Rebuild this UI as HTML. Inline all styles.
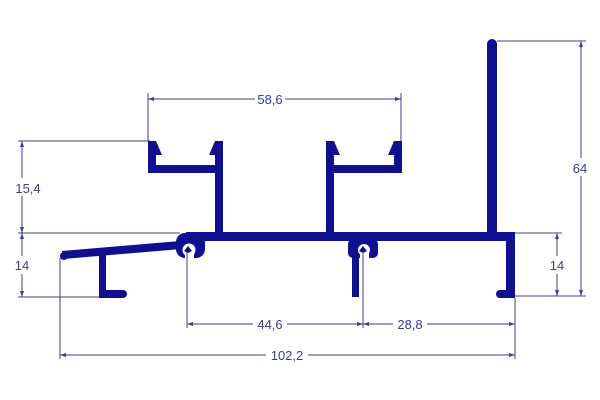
<!DOCTYPE html>
<html><head><style>html,body{margin:0;padding:0;background:#fff;}svg{display:block}</style></head>
<body>
<svg width="600" height="400" viewBox="0 0 600 400" xmlns="http://www.w3.org/2000/svg">
<g stroke="#3c3c90" stroke-width="1" fill="none">
  <line x1="148" y1="93" x2="148" y2="141"/><line x1="401" y1="93" x2="401" y2="141"/>
  <line x1="148" y1="99" x2="401" y2="99"/>
  <line x1="497" y1="41" x2="586" y2="41"/><line x1="515" y1="296" x2="586" y2="296"/>
  <line x1="581" y1="41" x2="581" y2="296"/>
  <line x1="18" y1="141" x2="150" y2="141"/>
  <line x1="18" y1="233" x2="180" y2="233"/>
  <line x1="18" y1="297" x2="100" y2="297"/>
  <line x1="22" y1="141" x2="22" y2="297"/>
  <line x1="515" y1="233" x2="562" y2="233"/>
  <line x1="557" y1="233" x2="557" y2="296"/>
  <line x1="60" y1="258" x2="60" y2="359"/>
  <line x1="515" y1="298" x2="515" y2="359"/>
  <line x1="187" y1="324" x2="515" y2="324"/>
  <line x1="60" y1="355" x2="515" y2="355"/>
</g>
<g fill="#3c3c90">
  <polygon points="148,99 154,97 154,101"/><polygon points="401,99 395,97 395,101"/>
  <polygon points="581,41 579,47 583,47"/><polygon points="581,296 579,290 583,290"/>
  <polygon points="22,141 20,147 24,147"/><polygon points="22,233 20,227 24,227"/>
  <polygon points="22,233 20,239 24,239"/><polygon points="22,297 20,291 24,291"/>
  <polygon points="557,233 555,239 559,239"/><polygon points="557,296 555,290 559,290"/>
  <polygon points="187,324 193,322 193,326"/><polygon points="363,324 357,322 357,326"/>
  <polygon points="363,324 369,322 369,326"/><polygon points="515,324 509,322 509,326"/>
  <polygon points="60,355 66,353 66,357"/><polygon points="515,355 509,353 509,357"/>
</g>
<g font-family="Liberation Sans, sans-serif" font-size="13" fill="#3c3c90" text-anchor="middle">
  <rect x="255" y="90" width="30" height="16" fill="#fff"/><text x="270" y="104">58,6</text>
  <rect x="568" y="158" width="24" height="18" fill="#fff"/><text x="580" y="173">64</text>
  <rect x="12" y="178" width="30" height="18" fill="#fff"/><text x="28" y="193">15,4</text>
  <rect x="12" y="256" width="20" height="18" fill="#fff"/><text x="22" y="270">14</text>
  <rect x="547" y="256" width="20" height="18" fill="#fff"/><text x="557" y="270">14</text>
  <rect x="253" y="316" width="34" height="16" fill="#fff"/><text x="270" y="329">44,6</text>
  <rect x="393" y="316" width="34" height="16" fill="#fff"/><text x="410" y="329">28,8</text>
  <rect x="266" y="347" width="42" height="16" fill="#fff"/><text x="287" y="360">102,2</text>
</g>
<g fill="#10108f" stroke="none">
  <rect x="186" y="232" width="329" height="9"/>
  <rect x="506" y="232" width="9" height="66"/>
  <rect x="496" y="290" width="19" height="8" rx="4"/>
  <rect x="487" y="43" width="10" height="192"/>
  <circle cx="492" cy="44" r="5"/>
  <rect x="148" y="141" width="8" height="32"/>
  <rect x="148" y="165" width="75" height="8"/>
  <rect x="215" y="141" width="8" height="94"/>
  <polygon points="156,141 156,155 162,155"/>
  <polygon points="215,141 215,155 209,155"/>
  <rect x="326" y="141" width="8" height="94"/>
  <rect x="326" y="165" width="76" height="8"/>
  <rect x="394" y="141" width="8" height="32"/>
  <polygon points="334,141 334,155 340,155"/>
  <polygon points="394,141 394,155 388,155"/>
  <polygon points="62,251 180,241 181,249 63,259"/>
  <circle cx="64" cy="256" r="4"/>
  <rect x="99" y="252" width="7" height="46"/>
  <rect x="99" y="290" width="28" height="8" rx="4"/>
  <rect x="176" y="233" width="29" height="25" rx="9"/>
  <rect x="190" y="232" width="15" height="9"/>
  <rect x="348" y="239" width="30" height="19" rx="5"/>
  <rect x="352" y="241" width="7" height="56"/>
</g>
<g fill="#fff">
  <circle cx="189" cy="250" r="6.5"/>
  <rect x="185" y="252" width="9" height="8"/>
  <circle cx="364" cy="250" r="6"/>
  <rect x="360" y="252" width="9" height="8"/>
</g>
<g fill="#10108f">
  <polygon points="184,251 188,246 192,251 188,253"/>
  <polygon points="359,251 363,246 367,251 363,253"/>
</g>
<g stroke="#3c3c90" stroke-width="1">
  <line x1="187" y1="252" x2="187" y2="328"/>
  <line x1="363" y1="252" x2="363" y2="328"/>
</g>
</svg>
</body></html>
